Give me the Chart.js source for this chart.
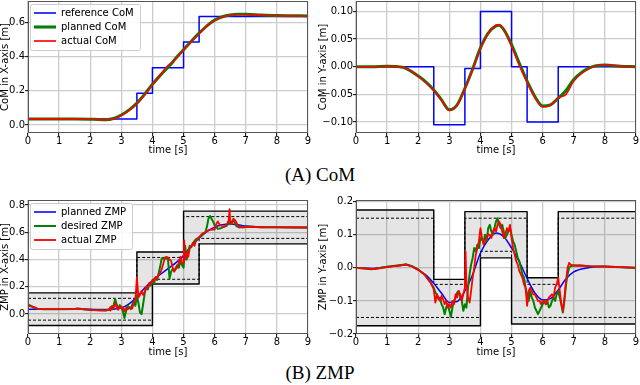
<!DOCTYPE html>
<html>
<head>
<meta charset="utf-8">
<script src="https://cdn.jsdelivr.net/npm/chart.js@4.4.1/dist/chart.umd.min.js"></script>
<style>
  body { margin: 0; background: #fff; }
  #fig { position: relative; width: 640px; height: 385px; overflow: hidden; }
  #fig canvas { position: absolute; }
  .caption {
    position: absolute; left: 0; width: 640px; text-align: center;
    font-family: 'Liberation Serif', 'Times New Roman', serif;
    font-size: 19px; line-height: 19px; color: #000;
  }
</style>
</head>
<body>
<div id="fig">
  <canvas id="com-x" width="320" height="160" style="left:0;top:0"></canvas>
  <canvas id="com-y" width="322" height="160" style="left:318px;top:0"></canvas>
  <div class="caption" style="top:165px">(A) CoM</div>
  <canvas id="zmp-x" width="320" height="170" style="left:0;top:190px"></canvas>
  <canvas id="zmp-y" width="322" height="170" style="left:318px;top:190px"></canvas>
  <div class="caption" style="top:363px">(B) ZMP</div>
</div>
<script>
// ---- data (time in s, positions in m) ----
const xTicks = [0, 1, 2, 3, 4, 5, 6, 7, 8, 9];
const comXTicks = [0, 0.2, 0.4, 0.6];
const comYTicks = [-0.1, -0.05, 0, 0.05, 0.1];
const zmpXTicks = [0, 0.2, 0.4, 0.6, 0.8];
const zmpYTicks = [-0.2, -0.1, 0, 0.1, 0.2];

// reference CoM (steps)
const refComXT = [0, 3.5, 4, 5, 5.5, 9];
const refComX = [0.035, 0.185, 0.335, 0.485, 0.635, 0.635];
const refComYT = [0, 2.5, 3.5, 4, 5, 5.5, 6.5, 9];
const refComY = [0, -0.105, -0.003, 0.1, 0, -0.1, 0, 0];

// planned / actual CoM
const comT = [0, 0.5, 1, 1.5, 2, 2.25, 2.5, 2.75, 3, 3.25, 3.5, 3.75, 4, 4.25, 4.5, 4.6, 4.75, 5, 5.25, 5.5, 5.75, 6, 6.25, 6.5, 6.75, 7, 7.5, 8, 8.5, 9];
const plannedComX = [0.035, 0.035, 0.035, 0.035, 0.034, 0.032, 0.031, 0.038, 0.058, 0.088, 0.128, 0.18, 0.238, 0.29, 0.338, 0.356, 0.39, 0.44, 0.49, 0.537, 0.58, 0.613, 0.633, 0.643, 0.647, 0.647, 0.643, 0.64, 0.639, 0.638];
const actualComX = [0.034, 0.034, 0.034, 0.034, 0.033, 0.031, 0.03, 0.036, 0.055, 0.085, 0.125, 0.178, 0.236, 0.29, 0.347, 0.362, 0.387, 0.437, 0.488, 0.535, 0.578, 0.612, 0.632, 0.642, 0.646, 0.646, 0.642, 0.639, 0.638, 0.637];
const plannedComY = [0, 0, 0.001, -0.001, -0.017, -0.028, -0.042, -0.06, -0.078, -0.069, -0.039, -0.004, 0.034, 0.061, 0.074, 0.075, 0.067, 0.04, 0.006, -0.026, -0.054, -0.071, -0.069, -0.057, -0.043, -0.023, -0.002, 0.003, 0.001, 0];
const actualComY = [0, 0, 0.001, -0.001, -0.017, -0.029, -0.043, -0.061, -0.079, -0.07, -0.04, -0.005, 0.033, 0.06, 0.075, 0.076, 0.068, 0.037, 0.003, -0.028, -0.056, -0.073, -0.07, -0.056, -0.05, -0.026, -0.003, 0.003, 0.001, 0];

// support polygon bounds, X axis
const supXT = [0, 3.5, 4, 5, 5.5, 9];
const supXUpper = [0.155, 0.455, 0.455, 0.755, 0.755, 0.755];
const supXLower = [-0.085, -0.085, 0.22, 0.22, 0.515, 0.515];
const safeXUpper = [0.115, 0.415, 0.415, 0.715, 0.715, 0.715];
const safeXLower = [-0.045, -0.045, 0.255, 0.255, 0.555, 0.555];

// support polygon bounds, Y axis
const supYT = [0, 2.5, 3.5, 4, 5, 5.5, 6.5, 9];
const supYUpper = [0.175, -0.035, 0.17, 0.17, 0.17, -0.03, 0.17, 0.17];
const supYLower = [-0.175, -0.175, -0.175, 0.03, -0.17, -0.17, -0.17, -0.17];
const safeYUpper = [0.15, -0.05, 0.15, 0.15, 0.15, -0.05, 0.15, 0.15];
const safeYLower = [-0.15, -0.15, -0.15, 0.05, -0.15, -0.15, -0.15, -0.15];

// planned ZMP
const planZmpXT = [0, 0.5, 1, 1.5, 2, 2.5, 2.75, 3, 3.25, 3.5, 3.75, 4, 4.25, 4.5, 4.75, 5, 5.25, 5.5, 5.75, 6, 6.25, 6.5, 6.75, 7, 7.5, 8, 9];
const plannedZmpX = [0.035, 0.035, 0.035, 0.036, 0.035, 0.032, 0.035, 0.045, 0.075, 0.125, 0.19, 0.245, 0.29, 0.333, 0.375, 0.43, 0.5, 0.557, 0.605, 0.638, 0.655, 0.66, 0.655, 0.646, 0.638, 0.636, 0.635];
const planZmpYT = [0, 0.5, 1, 1.5, 1.6, 2, 2.25, 2.5, 2.75, 3, 3.25, 3.5, 3.75, 4, 4.25, 4.5, 4.75, 5, 5.25, 5.5, 5.75, 6, 6.25, 6.5, 6.75, 7, 7.5, 8, 8.5, 9];
const plannedZmpY = [0, -0.002, 0.003, 0.008, 0.01, -0.007, -0.022, -0.047, -0.077, -0.105, -0.102, -0.07, -0.02, 0.045, 0.085, 0.105, 0.094, 0.06, 0.018, -0.032, -0.076, -0.097, -0.093, -0.067, -0.033, -0.012, 0.001, 0.004, 0.002, 0];

// desired ZMP, X axis
const desZmpXT = [0, 0.1, 0.2, 0.3, 0.5, 1, 1.5, 1.6, 1.8, 2, 2.3, 2.5, 2.6, 2.65, 2.7, 2.75, 2.8, 2.85, 2.9, 2.95, 3, 3.05, 3.1, 3.15, 3.2, 3.25, 3.3, 3.35, 3.4, 3.45, 3.5, 3.55, 3.6, 3.65, 3.7, 3.75, 3.8, 3.85, 3.9, 3.95, 4, 4.05, 4.1, 4.15, 4.2, 4.25, 4.3, 4.35, 4.4, 4.45, 4.5, 4.55, 4.6, 4.65, 4.7, 4.8, 4.85, 4.9, 4.95, 5, 5.05, 5.1, 5.15, 5.2, 5.25, 5.3, 5.4, 5.5, 5.6, 5.7, 5.75, 5.8, 5.85, 5.9, 5.95, 6, 6.05, 6.1, 6.2, 6.3, 6.4, 6.45, 6.5, 6.55, 6.6, 6.65, 6.7, 6.8, 6.9, 7, 7.2, 7.5, 8, 9];
const desZmpX = [0.07, 0.06, 0.045, 0.038, 0.035, 0.035, 0.036, 0.04, 0.035, 0.03, 0.027, 0.025, 0.03, 0.05, 0.035, 0.06, 0.11, 0.07, 0.04, 0.065, 0.05, 0.02, -0.03, 0.02, 0.06, 0.05, 0.035, 0.07, 0.09, 0.06, 0.13, 0.08, 0.01, 0.0, 0.07, 0.15, 0.2, 0.18, 0.22, 0.21, 0.24, 0.22, 0.27, 0.25, 0.3, 0.35, 0.41, 0.41, 0.405, 0.41, 0.4, 0.26, 0.31, 0.33, 0.32, 0.36, 0.34, 0.39, 0.36, 0.34, 0.5, 0.4, 0.46, 0.5, 0.49, 0.52, 0.55, 0.56, 0.58, 0.6, 0.64, 0.7, 0.72, 0.7, 0.68, 0.65, 0.64, 0.625, 0.63, 0.64, 0.65, 0.68, 0.66, 0.68, 0.69, 0.67, 0.645, 0.635, 0.64, 0.642, 0.64, 0.637, 0.636, 0.635];

// actual ZMP, X axis
const actZmpXT = [0, 0.1, 0.2, 0.3, 0.5, 1, 1.5, 1.6, 1.8, 2, 2.3, 2.5, 2.6, 2.65, 2.7, 2.75, 2.8, 2.85, 2.9, 2.95, 3, 3.05, 3.1, 3.15, 3.2, 3.3, 3.35, 3.4, 3.45, 3.5, 3.55, 3.6, 3.65, 3.7, 3.75, 3.8, 3.85, 3.9, 3.95, 4, 4.05, 4.1, 4.15, 4.2, 4.25, 4.3, 4.35, 4.4, 4.45, 4.5, 4.55, 4.6, 4.65, 4.7, 4.75, 4.8, 4.85, 4.9, 4.95, 5, 5.02, 5.05, 5.1, 5.15, 5.2, 5.25, 5.3, 5.35, 5.4, 5.5, 5.6, 5.7, 5.8, 5.9, 6, 6.05, 6.1, 6.15, 6.2, 6.3, 6.4, 6.45, 6.48, 6.5, 6.55, 6.6, 6.65, 6.7, 6.75, 6.8, 6.9, 7, 7.2, 7.5, 8, 9];
const actZmpX = [0.06, 0.055, 0.05, 0.04, 0.036, 0.035, 0.037, 0.04, 0.034, 0.03, 0.027, 0.026, 0.035, 0.025, 0.06, 0.04, 0.08, 0.05, 0.03, 0.055, 0.04, 0.05, 0.02, 0.045, 0.035, 0.05, 0.04, 0.08, 0.1, 0.27, 0.12, 0.14, 0.17, 0.14, 0.16, 0.2, 0.19, 0.23, 0.22, 0.25, 0.24, 0.27, 0.26, 0.29, 0.3, 0.33, 0.37, 0.415, 0.42, 0.415, 0.4, 0.39, 0.34, 0.31, 0.33, 0.34, 0.38, 0.42, 0.37, 0.38, 0.54, 0.4, 0.45, 0.42, 0.48, 0.5, 0.52, 0.5, 0.54, 0.565, 0.59, 0.6, 0.615, 0.62, 0.62, 0.66, 0.68, 0.66, 0.65, 0.64, 0.66, 0.69, 0.77, 0.67, 0.66, 0.7, 0.69, 0.67, 0.65, 0.64, 0.635, 0.638, 0.64, 0.637, 0.636, 0.635];

// desired ZMP, Y axis
const desZmpYT = [0, 0.5, 0.6, 1, 1.5, 1.6, 1.8, 2, 2.2, 2.4, 2.5, 2.55, 2.6, 2.65, 2.7, 2.75, 2.8, 2.85, 2.9, 2.95, 3, 3.05, 3.1, 3.15, 3.2, 3.25, 3.3, 3.35, 3.4, 3.45, 3.5, 3.55, 3.6, 3.65, 3.7, 3.75, 3.8, 3.85, 3.9, 3.95, 4, 4.05, 4.1, 4.15, 4.2, 4.25, 4.3, 4.35, 4.4, 4.45, 4.5, 4.55, 4.6, 4.65, 4.7, 4.75, 4.8, 4.85, 4.9, 4.95, 5, 5.05, 5.1, 5.15, 5.2, 5.25, 5.3, 5.35, 5.4, 5.45, 5.5, 5.55, 5.6, 5.65, 5.7, 5.75, 5.8, 5.85, 5.9, 5.95, 6, 6.05, 6.1, 6.15, 6.2, 6.25, 6.3, 6.35, 6.4, 6.45, 6.5, 6.55, 6.6, 6.65, 6.7, 6.75, 6.8, 6.85, 6.9, 7, 7.2, 7.5, 8, 8.5, 9];
const desZmpY = [0, -0.004, -0.003, 0.003, 0.009, 0.011, 0.005, -0.005, -0.02, -0.045, -0.06, -0.075, -0.08, -0.095, -0.09, -0.11, -0.12, -0.14, -0.12, -0.11, -0.13, -0.148, -0.12, -0.1, -0.09, -0.075, -0.07, -0.09, -0.1, -0.13, -0.11, -0.12, -0.06, -0.02, 0.01, 0.03, 0.06, 0.05, 0.07, 0.06, 0.09, 0.085, 0.08, 0.1, 0.08, 0.12, 0.13, 0.11, 0.1, 0.12, 0.14, 0.15, 0.13, 0.12, 0.13, 0.11, 0.09, 0.1, 0.11, 0.12, 0.1, 0.08, 0.07, 0.05, 0.03, 0.02, 0.0, -0.02, -0.03, -0.06, -0.08, -0.1, -0.07, -0.09, -0.1, -0.12, -0.13, -0.14, -0.13, -0.12, -0.11, -0.1, -0.11, -0.1, -0.12, -0.115, -0.1, -0.09, -0.1, -0.08, -0.07, -0.09, -0.11, -0.135, -0.1, -0.05, -0.02, 0.0, 0.005, 0.008, 0.007, 0.005, 0.004, 0.002, 0];

// actual ZMP, Y axis
const actZmpYT = [0, 0.5, 0.6, 1, 1.5, 1.6, 1.8, 2, 2.2, 2.4, 2.5, 2.55, 2.6, 2.65, 2.7, 2.75, 2.8, 2.85, 2.9, 2.95, 3, 3.05, 3.1, 3.15, 3.2, 3.25, 3.3, 3.35, 3.4, 3.45, 3.5, 3.52, 3.55, 3.6, 3.65, 3.7, 3.75, 3.8, 3.85, 3.9, 3.95, 4, 4.05, 4.1, 4.15, 4.2, 4.25, 4.3, 4.35, 4.4, 4.45, 4.5, 4.55, 4.6, 4.65, 4.7, 4.75, 4.8, 4.85, 4.9, 4.95, 5, 5.05, 5.1, 5.15, 5.2, 5.25, 5.3, 5.35, 5.4, 5.45, 5.5, 5.55, 5.6, 5.65, 5.7, 5.75, 5.8, 5.85, 5.9, 5.95, 6, 6.05, 6.1, 6.15, 6.2, 6.25, 6.3, 6.35, 6.4, 6.45, 6.5, 6.55, 6.6, 6.65, 6.7, 6.75, 6.8, 6.85, 6.9, 7, 7.2, 7.5, 8, 8.5, 9];
const actZmpY = [0, -0.003, -0.004, 0.002, 0.008, 0.01, 0.004, -0.006, -0.02, -0.045, -0.065, -0.105, -0.08, -0.09, -0.1, -0.085, -0.095, -0.11, -0.1, -0.12, -0.11, -0.12, -0.1, -0.11, -0.08, -0.09, -0.07, -0.08, -0.1, -0.08, -0.06, 0.05, -0.05, -0.09, -0.105, -0.07, -0.03, 0.0, 0.04, 0.06, 0.08, 0.12, 0.09, 0.07, 0.08, 0.09, 0.1, 0.1, 0.09, 0.11, 0.12, 0.11, 0.13, 0.14, 0.13, 0.11, 0.09, 0.1, 0.12, 0.11, 0.13, 0.09, 0.06, 0.04, 0.02, 0.01, -0.01, -0.02, -0.03, -0.05, -0.06, -0.115, -0.07, -0.06, -0.07, -0.08, -0.08, -0.09, -0.1, -0.1, -0.11, -0.1, -0.1, -0.11, -0.1, -0.09, -0.085, -0.08, -0.09, -0.06, -0.05, -0.03, -0.07, -0.11, -0.13, -0.09, -0.04, 0.0, 0.015, 0.01, 0.006, 0.007, 0.005, 0.004, 0.002, 0];

// ---- styling ----
const FONT = "'DejaVu Sans', sans-serif";
const BLUE = '#0000ff', GREEN = '#008000', RED = '#ff0000', BLACK = '#000000';
const GRID = '#cccccc';

const pts = (xs, ys) => xs.map((x, i) => ({ x, y: ys[i] }));
const minus = s => s.replace('-', '\u2212');

function line(label, xs, ys, color, width, order, extra) {
  return Object.assign({
    label, data: pts(xs, ys), borderColor: color, backgroundColor: color,
    borderWidth: width, pointRadius: 0, fill: false, order
  }, extra || {});
}

// box around the plot area, like matplotlib spines
const framePlugin = {
  id: 'frame',
  afterDatasetsDraw(chart) {
    const a = chart.chartArea;
    const ctx = chart.ctx;
    ctx.save();
    ctx.strokeStyle = '#555';
    ctx.lineWidth = 1;
    ctx.strokeRect(Math.round(a.left) + 0.5, Math.round(a.top) + 0.5,
      Math.round(a.right - a.left) - 1, Math.round(a.bottom - a.top) - 1);
    ctx.restore();
  }
};

// legend inside the plot with a white box, drawn over the lines
const LEG_PAD = 4, LEG_LINE = 22, LEG_FONT = 10;
const legendBoxPlugin = {
  id: 'legendBox',
  afterLayout(chart) {
    const lg = chart.legend;
    if (!lg || !lg.options.display) return;
    const a = chart.chartArea;
    lg.left = a.left + 2;
    lg.top = a.top + 3;
    lg.right = lg.left + 200;
    lg.bottom = lg.top + 100;
  },
  afterDatasetsDraw(chart) {
    const lg = chart.legend;
    if (!lg || !lg.options.display) return;
    const ctx = chart.ctx;
    ctx.save();
    ctx.font = LEG_FONT + 'px ' + FONT;
    const items = lg.legendItems;
    const tw = Math.max(...items.map(it => ctx.measureText(it.text).width));
    const w = LEG_PAD + LEG_LINE + LEG_FONT / 2 + tw + LEG_PAD + 2;
    const h = items.length * (LEG_FONT + LEG_PAD) + LEG_PAD;
    ctx.beginPath();
    ctx.roundRect(Math.round(lg.left) + 0.5, Math.round(lg.top) + 0.5, Math.round(w), h, 2);
    ctx.fillStyle = 'rgba(255,255,255,0.85)';
    ctx.fill();
    ctx.strokeStyle = '#cccccc';
    ctx.lineWidth = 1;
    ctx.stroke();
    ctx.restore();
    lg.draw();
  }
};

function makeChart(id, datasets, cfg) {
  return new Chart(document.getElementById(id), {
    type: 'line',
    data: { datasets },
    options: {
      responsive: false,
      animation: false,
      devicePixelRatio: 1,
      layout: { padding: cfg.padding },
      elements: { line: { borderJoinStyle: 'round' } },
      plugins: {
        tooltip: { enabled: false },
        legend: cfg.legend ? {
          display: true,
          position: 'chartArea',
          align: 'start',
          labels: {
            usePointStyle: true,
            pointStyle: 'line',
            pointStyleWidth: LEG_LINE,
            boxHeight: LEG_FONT,
            padding: LEG_PAD,
            color: '#000',
            font: { family: FONT, size: LEG_FONT },
            filter: item => !!item.text,
            sort: (a, b) => a.datasetIndex - b.datasetIndex
          }
        } : { display: false }
      },
      scales: {
        x: {
          type: 'linear', min: 0, max: 9,
          afterBuildTicks: ax => { ax.ticks = xTicks.map(v => ({ value: v })); },
          afterFit: ax => { ax.height = cfg.xAxisHeight; },
          ticks: { color: '#000', font: { family: FONT, size: 10, lineHeight: 1 }, padding: 0, maxRotation: 0, callback: v => String(v) },
          grid: { color: GRID, lineWidth: 1.3, tickLength: 3, tickColor: '#000', tickWidth: 1 },
          border: { display: false },
          title: { display: true, text: 'time [s]', color: '#000', font: { family: FONT, size: 10, lineHeight: 1.2 }, padding: { top: 0, bottom: cfg.xTitlePad } }
        },
        y: {
          type: 'linear', min: cfg.yMin, max: cfg.yMax,
          afterBuildTicks: ax => { ax.ticks = cfg.yTicks.map(v => ({ value: v })); },
          afterFit: ax => { ax.width = cfg.yAxisWidth; },
          ticks: { color: '#000', font: { family: FONT, size: 10, lineHeight: 0.2 }, padding: 0, callback: v => minus(v.toFixed(cfg.yDigits)) },
          grid: { color: GRID, lineWidth: 1.3, tickLength: 3, tickColor: '#000', tickWidth: 1 },
          border: { display: false },
          title: { display: true, text: cfg.yTitle, color: '#000', font: { family: FONT, size: 10, lineHeight: 1 }, padding: { top: cfg.yTitlePad, bottom: 0 } }
        }
      }
    },
    plugins: [framePlugin, legendBoxPlugin]
  });
}

const smooth = { cubicInterpolationMode: 'monotone' };
const step = { stepped: 'before' };
const FILL = 'rgba(0,0,0,0.1)';

function supportSets(t, up, lo, sUp, sLo) {
  return [
    line('', t, up, BLACK, 1.4, 20, Object.assign({ fill: '+1', backgroundColor: FILL }, step)),
    line('', t, lo, BLACK, 1.4, 21, step),
    line('', t, sUp, BLACK, 1, 22, Object.assign({ borderDash: [3, 2] }, step)),
    line('', t, sLo, BLACK, 1, 23, Object.assign({ borderDash: [3, 2] }, step))
  ];
}

makeChart('com-x', [
  line('reference CoM', refComXT, refComX, BLUE, 1.5, 3, step),
  line('planned CoM', comT, plannedComX, GREEN, 3, 2, smooth),
  line('actual CoM', comT, actualComX, RED, 1.6, 1, smooth)
], { legend: true, padding: { top: 1, right: 12, left: 0, bottom: 0 }, xAxisHeight: 27, xTitlePad: 4,
     yAxisWidth: 28, yMin: -0.047, yMax: 0.725, yTicks: comXTicks, yDigits: 1, yTitle: 'CoM in X-axis [m]', yTitlePad: 0 });

makeChart('com-y', [
  line('reference CoM', refComYT, refComY, BLUE, 1.5, 3, step),
  line('planned CoM', comT, plannedComY, GREEN, 3, 2, smooth),
  line('actual CoM', comT, actualComY, RED, 1.6, 1, smooth)
], { legend: false, padding: { top: 1, right: 4, left: 0, bottom: 0 }, xAxisHeight: 27, xTitlePad: 4,
     yAxisWidth: 38, yMin: -0.12, yMax: 0.119, yTicks: comYTicks, yDigits: 2, yTitle: 'CoM in Y-axis [m]', yTitlePad: 0 });

makeChart('zmp-x', [
  line('planned ZMP', planZmpXT, plannedZmpX, BLUE, 1.5, 3, smooth),
  line('desired ZMP', desZmpXT, desZmpX, GREEN, 2, 2),
  line('actual ZMP', actZmpXT, actZmpX, RED, 1.8, 1)
].concat(supportSets(supXT, supXUpper, supXLower, safeXUpper, safeXLower)),
  { legend: true, padding: { top: 10, right: 12, left: 0, bottom: 0 }, xAxisHeight: 26, xTitlePad: 2,
    yAxisWidth: 28, yMin: -0.147, yMax: 0.837, yTicks: zmpXTicks, yDigits: 1, yTitle: 'ZMP in X-axis [m]', yTitlePad: 0 });

makeChart('zmp-y', [
  line('planned ZMP', planZmpYT, plannedZmpY, BLUE, 1.5, 3, smooth),
  line('desired ZMP', desZmpYT, desZmpY, GREEN, 2, 2),
  line('actual ZMP', actZmpYT, actZmpY, RED, 1.8, 1)
].concat(supportSets(supYT, supYUpper, supYLower, safeYUpper, safeYLower)),
  { legend: false, padding: { top: 10, right: 4, left: 0, bottom: 0 }, xAxisHeight: 26, xTitlePad: 2,
    yAxisWidth: 38, yMin: -0.2, yMax: 0.205, yTicks: zmpYTicks, yDigits: 1, yTitle: 'ZMP in Y-axis [m]', yTitlePad: 0 });
</script>
</body>
</html>
